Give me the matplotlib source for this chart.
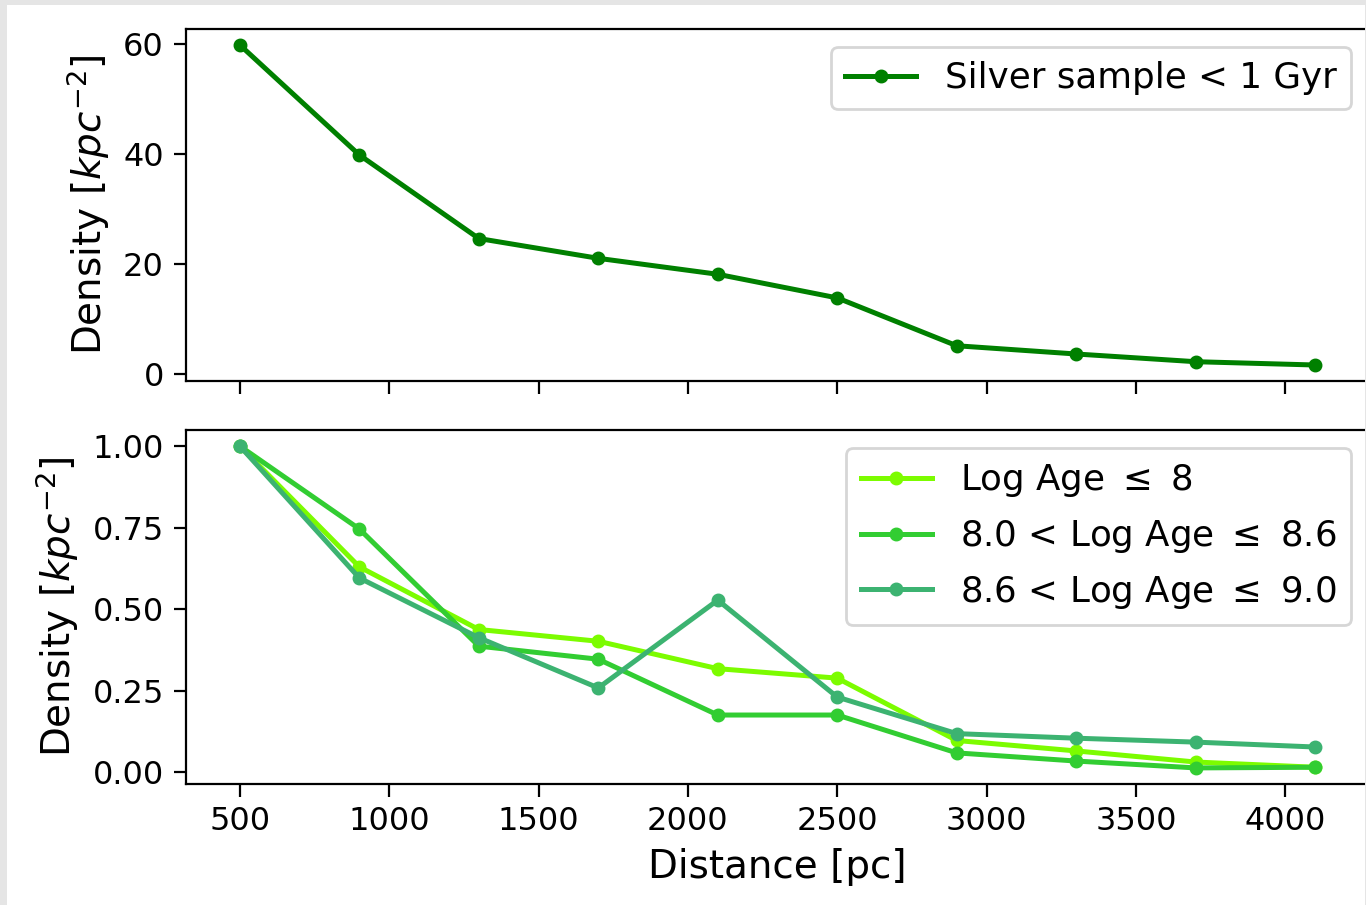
import matplotlib
matplotlib.use("Agg")
import matplotlib.pyplot as plt
from matplotlib.patches import Rectangle

# Radial bins (pc)
distance = [500, 900, 1300, 1700, 2100, 2500, 2900, 3300, 3700, 4100]

# Surface density of the young silver sample
silver_density = [59.8, 39.8, 24.6, 21.0, 18.1, 13.8, 5.1, 3.6, 2.2, 1.6]

# Normalised density by age bin
density_age_lt8 = [1.0, 0.630, 0.438, 0.402, 0.318, 0.289, 0.098, 0.066, 0.032, 0.016]
density_age_8_86 = [1.0, 0.746, 0.387, 0.347, 0.176, 0.176, 0.060, 0.035, 0.014, 0.016]
density_age_86_9 = [1.0, 0.596, 0.413, 0.259, 0.528, 0.231, 0.119, 0.105, 0.093, 0.078]

label_silver = "Silver sample < 1 Gyr"
labels_age = [r"Log Age $\leq$ 8",
              r"8.0 < Log Age $\leq$ 8.6",
              r"8.6 < Log Age $\leq$ 9.0"]
colors_age = ["#7CFC00", "#32CD32", "#3CB371"]

LW, MS = 1.8, 8

fig = plt.figure(figsize=(6.83, 4.525), dpi=200)
ax1 = fig.add_axes([0.1362, 0.579, 0.866, 0.389])
ax2 = fig.add_axes([0.1362, 0.1337, 0.866, 0.3912], sharex=ax1)

ax1.plot(distance, silver_density, color="green", marker=".", ms=MS,
         lw=LW, label=label_silver)
ax1.set_ylabel(r"Density [$kpc^{-2}$]", fontsize=14)
ax1.tick_params(labelsize=11.5, length=4.5)
ax1.tick_params(axis="x", labelbottom=False)
ax1.legend(fontsize=12.85, loc="upper right")

for vals, lab, col in zip([density_age_lt8, density_age_8_86, density_age_86_9],
                          labels_age, colors_age):
    ax2.plot(distance, vals, color=col, marker=".", ms=MS, lw=LW, label=lab)
ax2.set_ylabel(r"Density [$kpc^{-2}$]", fontsize=14)
ax2.set_xlabel("Distance [pc]", fontsize=14)
ax2.tick_params(labelsize=11.5, length=4.5)
ax2.set_yticks([0.0, 0.25, 0.5, 0.75, 1.0])
ax2.legend(fontsize=12.85, loc="upper right", labelspacing=0.53)

# light grey frame around the canvas
W, H = 1366, 905
for (x, y, w, h) in [(0, 0, 7 / W, 1), (0, 1 - 5 / H, 1, 5 / H),
                     (1 - 1.5 / W, 0, 1.5 / W, 1)]:
    fig.add_artist(Rectangle((x, y), w, h, transform=fig.transFigure,
                             facecolor="#e5e5e5", edgecolor="none", zorder=10))

fig.savefig("out.png", dpi=200)
